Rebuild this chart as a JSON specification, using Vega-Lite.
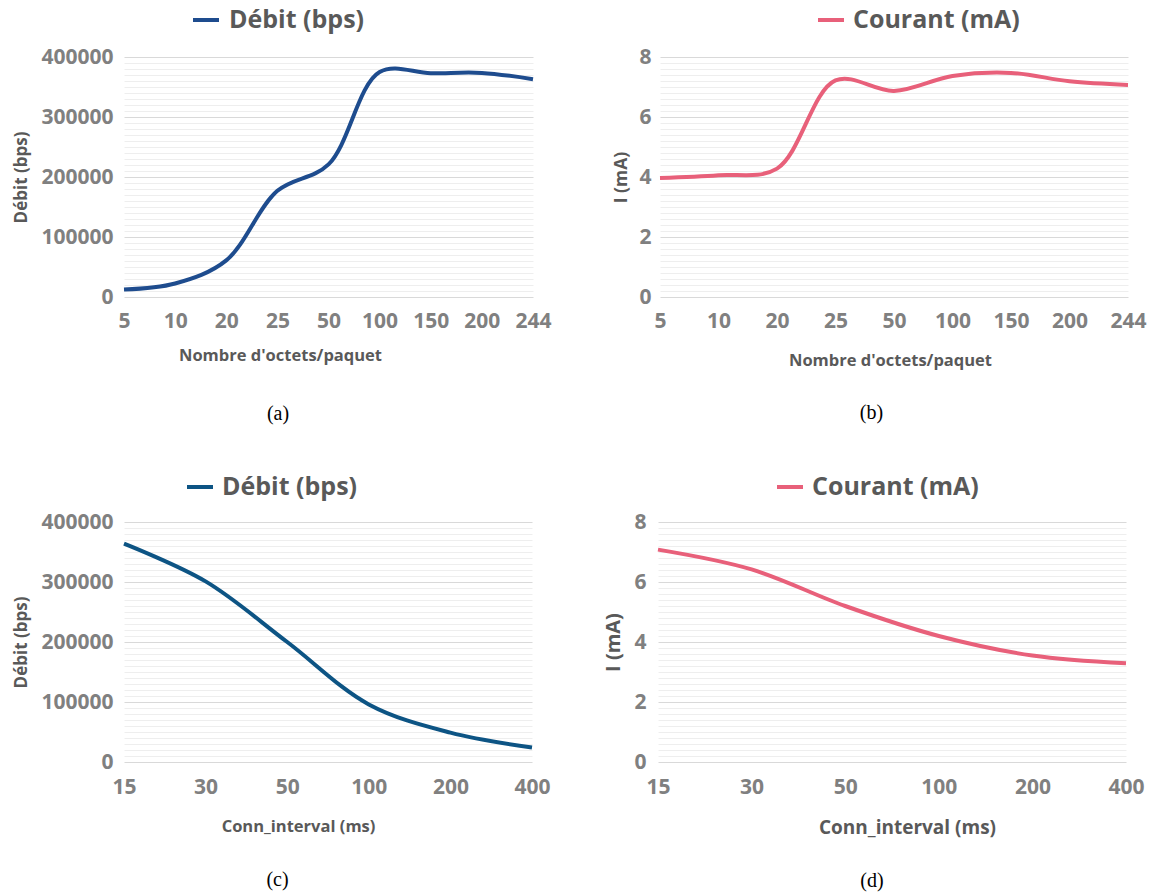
{
  "$schema": "https://vega.github.io/schema/vega-lite/v6.json",
  "background": "white",
  "padding": {"left": 12, "top": 5, "right": 5, "bottom": 5},
  "config": {
    "view": {"stroke": null},
    "font": "Open Sans",
    "axis": {"labelFont": "Open Sans", "titleFont": "Open Sans"},
    "legend": {"labelFont": "Open Sans", "labelLimit": 400}
  },
  "datasets": {
    "a": [
      {"n": "5", "v": 12500, "s": "Débit (bps)"},
      {"n": "10", "v": 22500, "s": "Débit (bps)"},
      {"n": "20", "v": 61000, "s": "Débit (bps)"},
      {"n": "25", "v": 177000, "s": "Débit (bps)"},
      {"n": "50", "v": 221000, "s": "Débit (bps)"},
      {"n": "100", "v": 375000, "s": "Débit (bps)"},
      {"n": "150", "v": 373000, "s": "Débit (bps)"},
      {"n": "200", "v": 373500, "s": "Débit (bps)"},
      {"n": "244", "v": 363000, "s": "Débit (bps)"}
    ],
    "b": [
      {"n": "5", "v": 3.97, "s": "Courant (mA)"},
      {"n": "10", "v": 4.06, "s": "Courant (mA)"},
      {"n": "20", "v": 4.28, "s": "Courant (mA)"},
      {"n": "25", "v": 7.22, "s": "Courant (mA)"},
      {"n": "50", "v": 6.87, "s": "Courant (mA)"},
      {"n": "100", "v": 7.37, "s": "Courant (mA)"},
      {"n": "150", "v": 7.47, "s": "Courant (mA)"},
      {"n": "200", "v": 7.19, "s": "Courant (mA)"},
      {"n": "244", "v": 7.07, "s": "Courant (mA)"}
    ],
    "c": [
      {"n": "15", "v": 364000, "s": "Débit (bps)"},
      {"n": "30", "v": 301000, "s": "Débit (bps)"},
      {"n": "50", "v": 200000, "s": "Débit (bps)"},
      {"n": "100", "v": 96000, "s": "Débit (bps)"},
      {"n": "200", "v": 49000, "s": "Débit (bps)"},
      {"n": "400", "v": 24000, "s": "Débit (bps)"}
    ],
    "d": [
      {"n": "15", "v": 7.08, "s": "Courant (mA)"},
      {"n": "30", "v": 6.42, "s": "Courant (mA)"},
      {"n": "50", "v": 5.2, "s": "Courant (mA)"},
      {"n": "100", "v": 4.2, "s": "Courant (mA)"},
      {"n": "200", "v": 3.55, "s": "Courant (mA)"},
      {"n": "400", "v": 3.29, "s": "Courant (mA)"}
    ]
  },
  "vconcat": [
    {
      "hconcat": [
        {
          "width": 409, "height": 240,
          "data": {"name": "a"},
          "mark": {"type": "line", "interpolate": "catmull-rom", "strokeWidth": 4},
          "encoding": {
            "x": {"field": "n", "type": "ordinal", "sort": null,
              "scale": {"type": "point", "padding": 0},
              "axis": {"title": "Nombre d'octets/paquet", "labelAngle": 0, "labelFontSize": 21, "labelFontWeight": "bold", "labelColor": "#808080", "labelPadding": 13, "ticks": false, "domain": false, "grid": false, "titleFontSize": 16.5, "titleFontWeight": "bold", "titleColor": "#595959", "titlePadding": 16, "titleX": 156}},
            "y": {"field": "v", "type": "quantitative",
              "scale": {"domain": [0, 400000], "nice": false},
              "axis": {"title": "Débit (bps)", "tickCount": 60, "values": [0,10000,20000,30000,40000,50000,60000,70000,80000,90000,100000,110000,120000,130000,140000,150000,160000,170000,180000,190000,200000,210000,220000,230000,240000,250000,260000,270000,280000,290000,300000,310000,320000,330000,340000,350000,360000,370000,380000,390000,400000],
                "labelExpr": "datum.value % 100000 === 0 ? format(datum.value, 'd') : ''", "labelOverlap": false, "labelFontSize": 21, "labelFontWeight": "bold", "labelColor": "#808080", "labelPadding": 11, "ticks": false, "domain": false,
                "gridColor": {"condition": {"test": "datum.value % 100000 === 0", "value": "#d9d9d9"}, "value": "#eeeeee"},
                "titleFontSize": 17, "titleFontWeight": "bold", "titleColor": "#595959", "titlePadding": 10}},
            "color": {"field": "s", "type": "nominal", "scale": {"range": ["#1e4c8e"]},
              "legend": {"title": null, "orient": "none", "legendX": 67, "legendY": -52, "labelFontSize": 25, "labelFontWeight": "bold", "labelColor": "#595959", "symbolStrokeWidth": 4, "symbolSize": 676, "labelOffset": 8}}
          },
          "title": {"text": "(a)", "orient": "bottom", "frame": "bounds", "anchor": "middle", "font": "Liberation Serif", "fontSize": 20, "fontWeight": "normal", "color": "#000000", "offset": 40, "dx": -4}
        },
        {
          "width": 468, "height": 240,
          "data": {"name": "b"},
          "mark": {"type": "line", "interpolate": "catmull-rom", "strokeWidth": 4},
          "encoding": {
            "x": {"field": "n", "type": "ordinal", "sort": null,
              "scale": {"type": "point", "padding": 0},
              "axis": {"title": "Nombre d'octets/paquet", "labelAngle": 0, "labelFontSize": 21, "labelFontWeight": "bold", "labelColor": "#808080", "labelPadding": 13, "ticks": false, "domain": false, "grid": false, "titleFontSize": 16.5, "titleFontWeight": "bold", "titleColor": "#595959", "titlePadding": 21, "titleX": 230}},
            "y": {"field": "v", "type": "quantitative",
              "scale": {"domain": [0, 8], "nice": false},
              "axis": {"title": "I (mA)", "tickCount": 60, "values": [0,0.2,0.4,0.6,0.8,1,1.2,1.4,1.6,1.8,2,2.2,2.4,2.6,2.8,3,3.2,3.4,3.6,3.8,4,4.2,4.4,4.6,4.8,5,5.2,5.4,5.6,5.8,6,6.2,6.4,6.6,6.8,7,7.2,7.4,7.6,7.8,8],
                "labelExpr": "datum.value % 2 === 0 ? format(datum.value, 'd') : ''", "labelOverlap": false, "labelFontSize": 21, "labelFontWeight": "bold", "labelColor": "#808080", "labelPadding": 9, "ticks": false, "domain": false,
                "gridColor": {"condition": {"test": "datum.value % 2 === 0", "value": "#d9d9d9"}, "value": "#eeeeee"},
                "titleFontSize": 17.5, "titleFontWeight": "bold", "titleColor": "#595959", "titlePadding": 8}},
            "color": {"field": "s", "type": "nominal", "scale": {"range": ["#e8607a"]},
              "legend": {"title": null, "orient": "none", "legendX": 156, "legendY": -52, "labelFontSize": 25, "labelFontWeight": "bold", "labelColor": "#595959", "symbolStrokeWidth": 4, "symbolSize": 676, "labelOffset": 7}}
          },
          "title": {"text": "(b)", "orient": "bottom", "frame": "bounds", "anchor": "middle", "font": "Liberation Serif", "fontSize": 20, "fontWeight": "normal", "color": "#000000", "offset": 34, "dx": -8}
        }
      ],
      "spacing": 127,
      "bounds": "flush",
      "resolve": {"scale": {"x": "independent", "y": "independent", "color": "independent"}, "legend": {"color": "independent"}}
    },
    {
      "hconcat": [
        {
          "width": 408, "height": 240,
          "data": {"name": "c"},
          "mark": {"type": "line", "interpolate": "catmull-rom", "strokeWidth": 4},
          "encoding": {
            "x": {"field": "n", "type": "ordinal", "sort": null,
              "scale": {"type": "point", "padding": 0},
              "axis": {"title": "Conn_interval (ms)", "labelAngle": 0, "labelFontSize": 21, "labelFontWeight": "bold", "labelColor": "#808080", "labelPadding": 14, "ticks": false, "domain": false, "grid": false, "titleFontSize": 16.5, "titleFontWeight": "bold", "titleColor": "#595959", "titlePadding": 21, "titleX": 174}},
            "y": {"field": "v", "type": "quantitative",
              "scale": {"domain": [0, 400000], "nice": false},
              "axis": {"title": "Débit (bps)", "tickCount": 60, "values": [0,10000,20000,30000,40000,50000,60000,70000,80000,90000,100000,110000,120000,130000,140000,150000,160000,170000,180000,190000,200000,210000,220000,230000,240000,250000,260000,270000,280000,290000,300000,310000,320000,330000,340000,350000,360000,370000,380000,390000,400000],
                "labelExpr": "datum.value % 100000 === 0 ? format(datum.value, 'd') : ''", "labelOverlap": false, "labelFontSize": 21, "labelFontWeight": "bold", "labelColor": "#808080", "labelPadding": 11, "ticks": false, "domain": false,
                "gridColor": {"condition": {"test": "datum.value % 100000 === 0", "value": "#d9d9d9"}, "value": "#eeeeee"},
                "titleFontSize": 17, "titleFontWeight": "bold", "titleColor": "#595959", "titlePadding": 10}},
            "color": {"field": "s", "type": "nominal", "scale": {"range": ["#0d5484"]},
              "legend": {"title": null, "orient": "none", "legendX": 61, "legendY": -50, "labelFontSize": 25, "labelFontWeight": "bold", "labelColor": "#595959", "symbolStrokeWidth": 4, "symbolSize": 676, "labelOffset": 7}}
          },
          "title": {"text": "(c)", "orient": "bottom", "frame": "bounds", "anchor": "middle", "font": "Liberation Serif", "fontSize": 20, "fontWeight": "normal", "color": "#000000", "offset": 35, "dx": -4}
        },
        {
          "width": 468, "height": 240,
          "data": {"name": "d"},
          "mark": {"type": "line", "interpolate": "catmull-rom", "strokeWidth": 4},
          "encoding": {
            "x": {"field": "n", "type": "ordinal", "sort": null,
              "scale": {"type": "point", "padding": 0},
              "axis": {"title": "Conn_interval (ms)", "labelAngle": 0, "labelFontSize": 21, "labelFontWeight": "bold", "labelColor": "#808080", "labelPadding": 14, "ticks": false, "domain": false, "grid": false, "titleFontSize": 19, "titleFontWeight": "bold", "titleColor": "#595959", "titlePadding": 21, "titleX": 249}},
            "y": {"field": "v", "type": "quantitative",
              "scale": {"domain": [0, 8], "nice": false},
              "axis": {"title": "I (mA)", "tickCount": 60, "values": [0,0.2,0.4,0.6,0.8,1,1.2,1.4,1.6,1.8,2,2.2,2.4,2.6,2.8,3,3.2,3.4,3.6,3.8,4,4.2,4.4,4.6,4.8,5,5.2,5.4,5.6,5.8,6,6.2,6.4,6.6,6.8,7,7.2,7.4,7.6,7.8,8],
                "labelExpr": "datum.value % 2 === 0 ? format(datum.value, 'd') : ''", "labelOverlap": false, "labelFontSize": 21, "labelFontWeight": "bold", "labelColor": "#808080", "labelPadding": 12, "ticks": false, "domain": false,
                "gridColor": {"condition": {"test": "datum.value % 2 === 0", "value": "#d9d9d9"}, "value": "#eeeeee"},
                "titleFontSize": 20, "titleFontWeight": "bold", "titleColor": "#595959", "titlePadding": 10}},
            "color": {"field": "s", "type": "nominal", "scale": {"range": ["#e8607a"]},
              "legend": {"title": null, "orient": "none", "legendX": 117, "legendY": -50, "labelFontSize": 25, "labelFontWeight": "bold", "labelColor": "#595959", "symbolStrokeWidth": 4, "symbolSize": 676, "labelOffset": 7}}
          },
          "title": {"text": "(d)", "orient": "bottom", "frame": "bounds", "anchor": "middle", "font": "Liberation Serif", "fontSize": 20, "fontWeight": "normal", "color": "#000000", "offset": 34, "dx": -2}
        }
      ],
      "spacing": 126,
      "bounds": "flush",
      "resolve": {"scale": {"x": "independent", "y": "independent", "color": "independent"}, "legend": {"color": "independent"}}
    }
  ],
  "spacing": 465,
  "bounds": "flush",
  "resolve": {"scale": {"x": "independent", "y": "independent", "color": "independent"}, "legend": {"color": "independent"}}
}
